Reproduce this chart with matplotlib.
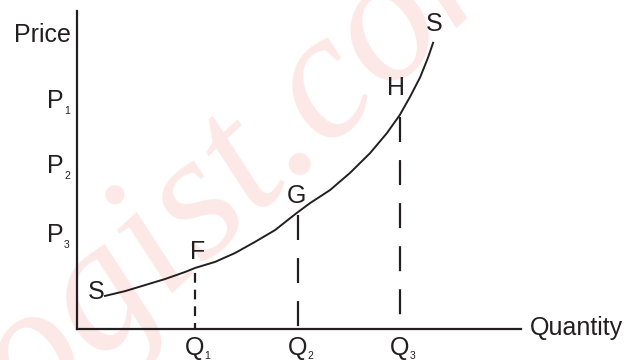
import matplotlib
matplotlib.use("Agg")
import matplotlib.pyplot as plt

# supply curve (arbitrary units, axes run 0..10)
curve_q = [0.63, 1.08, 1.53, 1.98, 2.43, 2.66, 3.11, 3.56, 4.01, 4.46, 4.95,
           5.25, 5.70, 6.15, 6.60, 6.98, 7.27, 7.50, 7.73, 7.91, 8.02]
curve_p = [1.04, 1.19, 1.38, 1.57, 1.79, 1.92, 2.11, 2.39, 2.74, 3.11, 3.65,
           3.96, 4.37, 4.91, 5.53, 6.16, 6.73, 7.30, 7.92, 8.55, 9.00]

# named points on the curve
point_names = ["S", "F", "G", "H", "S"]
point_q = [0.63, 2.66, 4.98, 7.27, 8.02]
point_p = [1.04, 1.92, 3.68, 6.73, 9.00]

# quantity markers and their dashed drop lines
q_ticks = [2.66, 4.98, 7.27]
q_subs = ["1", "2", "3"]
drop_top = [1.76, 3.58, 6.67]

p_ticks = [7.23, 5.19, 3.02]
p_subs = ["1", "2", "3"]

INK = "#231f20"

plt.rcParams["font.family"] = ["Liberation Sans", "DejaVu Sans"]
plt.rcParams["lines.scale_dashes"] = False

fig = plt.figure(figsize=(6.34, 3.6), dpi=100)

# faint site watermark behind everything
fig.text(0.425, 0.46, "logist.com", rotation=43, rotation_mode="anchor",
         fontsize=132, color="#fde8e8", family="Liberation Serif", style="italic",
         ha="center", va="baseline", zorder=-10)

ax = fig.add_axes([77 / 634, 31 / 360, 444 / 634, 318 / 360])
ax.patch.set_alpha(0)
ax.set_xlim(0, 10)
ax.set_ylim(0, 10)

ax.plot(curve_q, curve_p, color=INK, lw=1.4, solid_joinstyle="round")

for i, q in enumerate(q_ticks):
    dash = (7, 5) if i == 0 else (18, 13)
    ax.plot([q, q], [drop_top[i], 0], color=INK, lw=1.6, dashes=dash)

offsets = [(0, 2.5), (1.5, 3), (-1.5, 3), (-2.5, 10.5), (0.5, 5)]
for i, name in enumerate(point_names):
    ha = "right" if i == 0 else "center"
    va = "center" if i == 0 else "bottom"
    ax.annotate(name, (point_q[i], point_p[i]), xytext=offsets[i],
                textcoords="offset points", ha=ha, va=va, fontsize=18, color=INK)

# axis labels with small subscripts
for q, sub in zip(q_ticks, q_subs):
    ax.annotate("Q", (q, 0), xytext=(0, -19), textcoords="offset points",
                ha="center", va="baseline", fontsize=18, color=INK, annotation_clip=False)
    ax.annotate(sub, (q, 0), xytext=(6.8, -21.5), textcoords="offset points",
                ha="left", va="baseline", fontsize=7.5, color=INK, annotation_clip=False)
for p, sub in zip(p_ticks, p_subs):
    ax.annotate("P", (0, p), xytext=(-9.6, -6.5), textcoords="offset points",
                ha="right", va="baseline", fontsize=18, color=INK, annotation_clip=False)
    ax.annotate(sub, (0, p), xytext=(-9.4, -11), textcoords="offset points",
                ha="left", va="baseline", fontsize=7.5, color=INK, annotation_clip=False)

ax.set_xticks([])
ax.set_yticks([])

ax.annotate("Price", (0, 9.32), xytext=(-4.5, -6.5), textcoords="offset points",
            ha="right", va="baseline", fontsize=18, color=INK)
ax.annotate("Quantity", (10, 0), xytext=(6.5, -4.5), textcoords="offset points",
            ha="left", va="baseline", fontsize=18, color=INK, annotation_clip=False)

for side in ["top", "right"]:
    ax.spines[side].set_visible(False)
for side in ["left", "bottom"]:
    ax.spines[side].set_linewidth(1.6)
    ax.spines[side].set_color(INK)

fig.savefig("out.png", dpi=100)
